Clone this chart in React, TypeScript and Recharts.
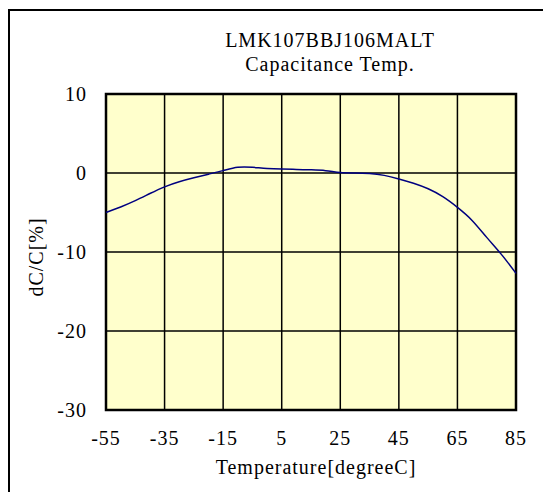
import { LineChart, Line, XAxis, YAxis, CartesianGrid, ReferenceArea } from 'recharts'

const temps = [
  -55, -50, -45, -40, -35, -30, -25, -20, -15, -10, -5, 0, 5, 10, 15, 20, 25, 30, 35, 40, 45, 50, 55, 60, 65,
  70, 75, 80, 85,
]
const dcc = [
  -5.0, -4.3, -3.5, -2.6, -1.75, -1.1, -0.6, -0.15, 0.3, 0.72, 0.72, 0.58, 0.5, 0.45, 0.4, 0.3, 0.05, 0.0, -0.05,
  -0.3, -0.75, -1.3, -2.0, -3.0, -4.35, -6.0, -8.15, -10.3, -12.7,
]
const xTicks = [-55, -35, -15, 5, 25, 45, 65, 85]
const yTicks = [-30, -20, -10, 0, 10]

const data = temps.map((t, i) => ({ t, v: dcc[i] }))

const font = 'Liberation Serif, Times New Roman, serif'
const tickStyle = { fontSize: 20, fill: '#000', fontFamily: font, letterSpacing: 1 }

export default function App() {
  return (
    <div style={{ position: 'fixed', left: 0, top: 0, width: 543, height: 492, overflow: 'hidden', background: '#fff' }}>
      <div
        style={{
          position: 'absolute',
          left: 8,
          top: 9,
          width: 600,
          height: 600,
          borderLeft: '2px solid #000',
          borderTop: '2px solid #000',
        }}
      />
      <div
        style={{
          position: 'absolute',
          left: 130,
          top: 28,
          width: 400,
          textAlign: 'center',
          fontFamily: font,
          fontSize: 20,
          lineHeight: '24px',
          letterSpacing: 1,
          color: '#000',
        }}
      >
        <div>LMK107BBJ106MALT</div>
        <div>Capacitance Temp.</div>
      </div>
      <div style={{ position: 'absolute', left: 0, top: 0 }}>
        <LineChart width={543} height={492} data={data} margin={{ top: 94, right: 27, bottom: 0, left: 0 }}>
          <CartesianGrid fill="#FFFFCC" stroke="#000" strokeWidth={1.5} />
          <XAxis
            dataKey="t"
            type="number"
            domain={[-55, 85]}
            ticks={xTicks}
            height={82}
            axisLine={false}
            tickLine={false}
            tickSize={0}
            tickMargin={21}
            tick={tickStyle}
            interval={0}
            label={{
              value: 'Temperature[degreeC]',
              position: 'insideBottom',
              offset: 18,
              dx: 5,
              fontSize: 20,
              fill: '#000',
              fontFamily: font,
              letterSpacing: 1,
            }}
          />
          <YAxis
            type="number"
            domain={[-30, 10]}
            ticks={yTicks}
            width={106}
            axisLine={false}
            tickLine={false}
            tickSize={0}
            tickMargin={19}
            tick={tickStyle}
            interval={0}
            label={{
              value: 'dC/C[%]',
              angle: -90,
              position: 'insideLeft',
              offset: 36,
              dy: 5,
              fontSize: 20,
              fill: '#000',
              fontFamily: font,
              letterSpacing: 1,
              style: { textAnchor: 'middle' },
            }}
          />
          <ReferenceArea x1={-55} x2={85} y1={-30} y2={10} fill="none" stroke="#000" strokeWidth={2.5} ifOverflow="visible" />
          <Line dataKey="v" type="natural" stroke="#000080" strokeWidth={1.5} dot={false} isAnimationActive={false} />
        </LineChart>
      </div>
    </div>
  )
}
